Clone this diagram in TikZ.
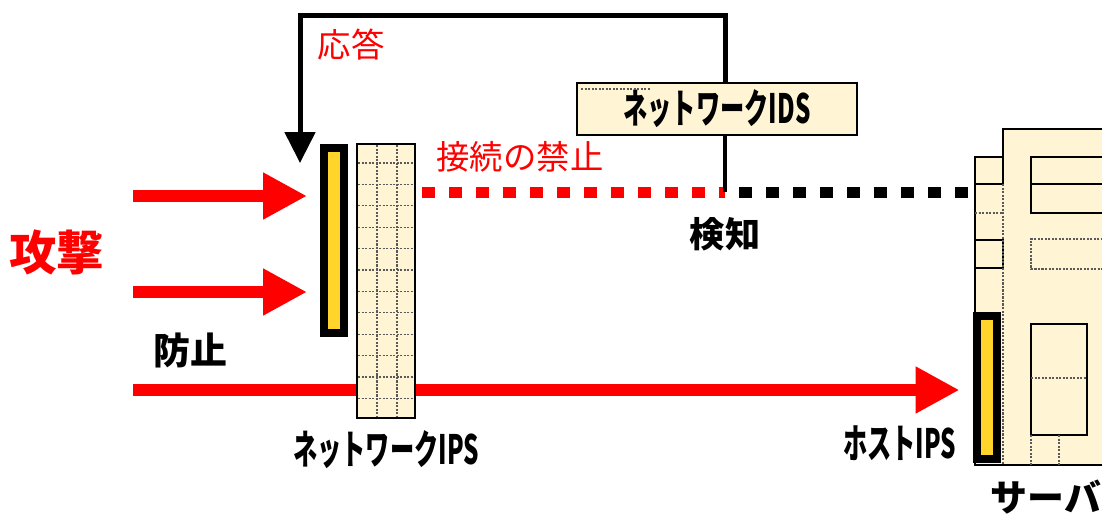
\documentclass[tikz,border=0pt]{standalone}
\usepackage{fontspec}
\newfontfamily\jp{Noto Sans CJK JP}
\usetikzlibrary{arrows.meta,positioning}

\definecolor{beige}{HTML}{FFF5D4}
\definecolor{ipsyellow}{HTML}{FFD52B}
\definecolor{alertred}{HTML}{FF0000}

% condensed label text
\newcommand\narrowtext[1]{\scalebox{0.6}[1]{#1}}

\tikzset{
  attack/.style={alertred, line width=0.24cm, -{Triangle[length=0.88cm,width=0.88cm]}},
  response/.style={line width=0.1cm, -{Triangle[length=0.62cm,width=0.6cm]}},
  flowdash/.style={line width=0.22cm, dash pattern=on 0.26cm off 0.28cm},
  ipsbar/.style={draw=black, fill=ipsyellow, line width=0.16cm, inner sep=0pt, minimum width=0.4cm},
  gridline/.style={black!65, line width=0.7pt, dash pattern=on 1.2pt off 0.8pt},
  boxlabel/.style={font=\jp\bfseries\fontsize{23}{23}\selectfont},
}

\begin{document}
\begin{tikzpicture}[x=0.02cm, y=-0.02cm, font=\jp]
  \useasboundingbox (0,0) rectangle (1102,515);

  % server
  \fill[beige] (1003,129) -- (1110,129) -- (1110,465) -- (975,465) -- (975,157) -- (1003,157) -- cycle;
  \draw[line width=1.4pt] (1110,129) -- (1003,129) -- (1003,157) -- (975,157) -- (975,465) -- (1110,465);
  \draw[line width=1pt] (975,184) -- (1003,184) -- (1003,157);
  \draw[gridline] (975,213) -- (1003,213);
  \draw[line width=1pt] (975,240) rectangle (1003,268);
  \draw[gridline] (1003,184) -- (1003,465);
  \draw[line width=1pt] (1110,157) -- (1031,157) -- (1031,213) -- (1110,213);
  \draw[line width=1pt] (1031,184) -- (1110,184);
  \draw[gridline] (1110,239) -- (1031,239) -- (1031,269) -- (1110,269);
  \draw[line width=1pt] (1031,324) rectangle (1087,435);
  \draw[gridline] (1031,378) -- (1087,378);
  \draw[gridline] (1031,435) -- (1031,465);
  \draw[gridline] (1059,435) -- (1059,465);
  \node[ipsbar, minimum height=2.86cm] (hbar) at (986.5,387.5) {};
  \node[font=\jp\bfseries\fontsize{21}{21}\selectfont] (server) at (1046,497) {サーバ};

  % attacks coming in
  \node[alertred, font=\jp\bfseries\fontsize{27}{27}\selectfont] (attack) at (57,252) {攻撃};
  \node[ipsbar, minimum height=3.7cm] (nbar) at (334,240.5) {};
  \coordinate (a1) at (133,196);
  \coordinate (a2) at (133,292);
  \coordinate (a3) at (133,390);
  \draw[attack, shorten >=0.26cm] (a1) -- (nbar.west |- a1);
  \draw[attack, shorten >=0.26cm] (a2) -- (nbar.west |- a2);
  \draw[attack, shorten >=0.26cm] (a3) -- (hbar.west |- a3);
  \node[font=\jp\bfseries\fontsize{21}{21}\selectfont, above right=0.32cm and 0.28cm of a3] (prevent) {防止};

  % network IPS
  \node[draw, fill=beige, line width=1.2pt, minimum width=1.16cm, minimum height=5.48cm, inner sep=0pt] (nips) at (386,281) {};
  \foreach \i in {0,...,11}
    \draw[gridline] (358,{163+21.4*\i}) -- (414,{163+21.4*\i});
  \draw[gridline] (377,145) -- (377,417);
  \draw[gridline] (397,145) -- (397,417);
  \node[boxlabel, below=0.1cm of nips] (nipslabel) {\narrowtext{ネットワークIPS}};
  \node[boxlabel, left=0.2cm of hbar.south west, anchor=east, yshift=0.4cm] (hipslabel) {\narrowtext{ホストIPS}};

  % network IDS and the blocked connection
  \coordinate (det) at (725,192);
  \coordinate (top) at (725,15);
  \coordinate (blk) at (422,192);
  \coordinate (resp) at (300,163);
  \coordinate (srv) at (975,192);
  \node[draw, fill=beige, line width=1.4pt, minimum width=5.6cm, minimum height=1.04cm, inner sep=0pt,
        boxlabel] (ids) at (717,109) {\narrowtext{ネットワークIDS}};
  \draw[gridline] (581,89) -- (650,89);
  \draw[flowdash, alertred] (blk) -- (det);
  \draw[flowdash, dash phase=0.26cm] (det) -- (srv);
  \draw[line width=0.08cm] (ids.south -| det) -- (det);
  \draw[response] (ids.north -| top) -- (top) -| (resp);
  \node[alertred, font=\jp\fontsize{19}{19}\selectfont] (block) at (520,157) {接続の禁止};
  \node[alertred, font=\jp\fontsize{19}{19}\selectfont] (reply) at (351,45) {応答};
  \node[font=\jp\bfseries\fontsize{20}{20}\selectfont, below=0.38cm of det] (detect) {検知};
\end{tikzpicture}
\end{document}
